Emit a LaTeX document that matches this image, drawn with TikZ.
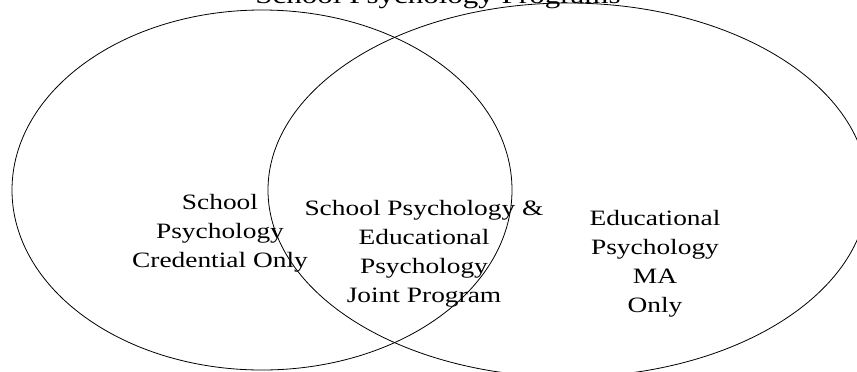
\documentclass[tikz,border=0pt]{standalone}
\usepackage{fontspec}
\setmainfont{Liberation Serif}
\begin{document}
\begin{tikzpicture}[x=1bp,y=-1bp,
  ring/.style={draw=black,line width=0.8bp},
  lbl/.style={align=center,anchor=base,inner sep=0pt,xscale=1.25,transform shape,
    font=\fontsize{22}{29}\selectfont},
  ttl/.style={anchor=base,inner sep=0pt,xscale=1.27,transform shape,
    font=\fontsize{24.5}{29}\selectfont}]
\useasboundingbox (0,0) rectangle (857,371);
\clip (0,0) rectangle (857,371);
\draw[ring] (262,190) ellipse [x radius=250, y radius=180];
\draw[ring] (568,190) ellipse [x radius=300, y radius=187];
\node[ttl] (title) at (438,3) {School Psychology Programs};
\node[lbl] (left) at (220,267) {School\\Psychology\\Credential Only};
\node[lbl] (mid) at (424,302) {School Psychology \&\\Educational\\Psychology\\Joint Program};
\node[lbl] (right) at (655,312) {Educational\\Psychology\\MA\\Only};
\end{tikzpicture}
\end{document}
